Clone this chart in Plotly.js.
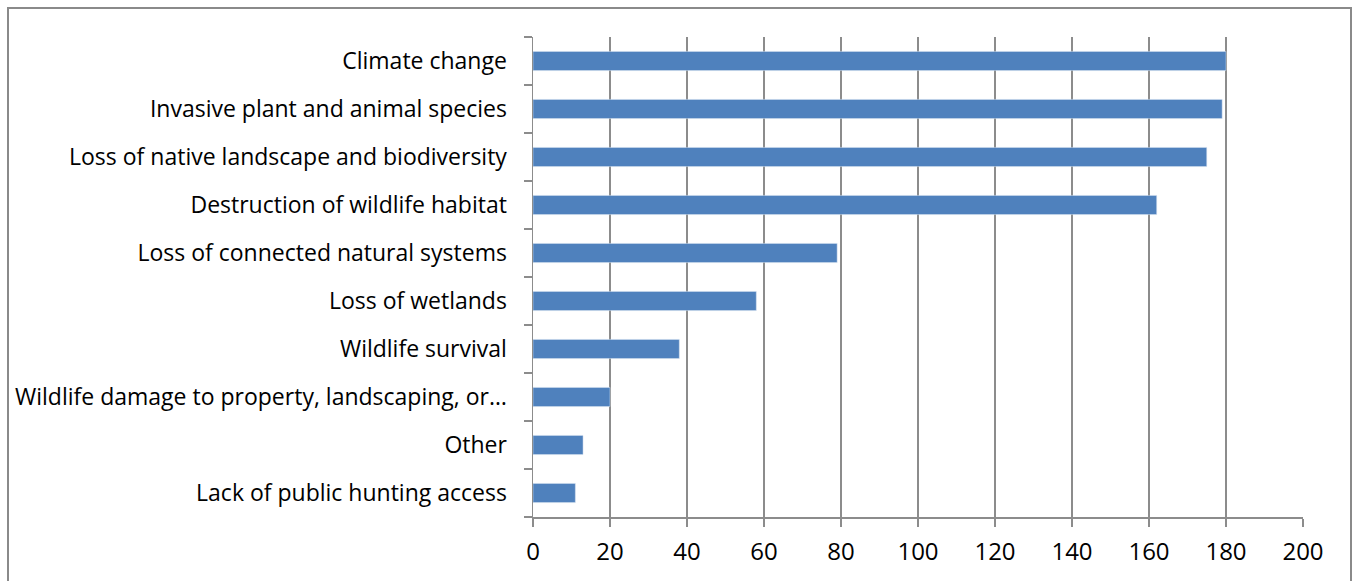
<!DOCTYPE html>
<html>
<head>
<meta charset="utf-8">
<script src="https://cdn.plot.ly/plotly-3.0.1.min.js"></script>
<style>
  html, body { margin: 0; padding: 0; background: #fff; }
  #frame { position: absolute; left: 7px; top: 7px; width: 1345px; height: 600px; border: 2px solid #8a8a8a; box-sizing: border-box; pointer-events: none; z-index: 5; }
  #chart { position: absolute; left: 0; top: 0; width: 1355px; height: 581px; }
</style>
</head>
<body>
<div id="chart"></div>
<div id="frame"></div>
<script>
const categories = [
  "Lack of public hunting access",
  "Other",
  "Wildlife damage to property, landscaping, or…",
  "Wildlife survival",
  "Loss of wetlands",
  "Loss of connected natural systems",
  "Destruction of wildlife habitat",
  "Loss of native landscape and biodiversity",
  "Invasive plant and animal species",
  "Climate change"
];
const values = [11, 13, 20, 38, 58, 79, 162, 175, 179, 180];
const xTicks = [0, 20, 40, 60, 80, 100, 120, 140, 160, 180, 200];

const trace = {
  type: 'bar',
  orientation: 'h',
  y: categories,
  x: values,
  marker: { color: '#4F81BD', line: { color: '#dbe5f1', width: 0.5 } },
  hoverinfo: 'x+y'
};

const layout = {
  width: 1355,
  height: 581,
  margin: { l: 533, r: 52, t: 37, b: 64 },
  paper_bgcolor: '#ffffff',
  plot_bgcolor: '#ffffff',
  font: { family: '"Open Sans", sans-serif', size: 20, color: '#000' },
  bargap: 0.6,
  showlegend: false,
  xaxis: {
    range: [0, 200],
    tickvals: xTicks,
    ticktext: xTicks.map(String),
    showgrid: true,
    gridcolor: '#8c8c8c',
    gridwidth: 1.5,
    zeroline: false,
    showline: true,
    linecolor: '#8c8c8c',
    linewidth: 1.5,
    ticks: 'outside',
    ticklen: 8,
    tickwidth: 1.5,
    tickcolor: '#8c8c8c',
    ticklabelstandoff: 5,
    tickfont: { size: 24, color: '#000' },
    fixedrange: true
  },
  yaxis: {
    type: 'category',
    categoryorder: 'array',
    categoryarray: categories,
    showgrid: false,
    zeroline: false,
    showline: true,
    linecolor: '#8c8c8c',
    linewidth: 1.5,
    ticks: 'outside',
    tickson: 'boundaries',
    ticklen: 8,
    tickwidth: 1.5,
    tickcolor: '#8c8c8c',
    ticklabelstandoff: 20,
    tickfont: { size: 23, color: '#000' },
    fixedrange: true
  }
};

Plotly.newPlot('chart', [trace], layout, { displayModeBar: false, staticPlot: true });
</script>
</body>
</html>
